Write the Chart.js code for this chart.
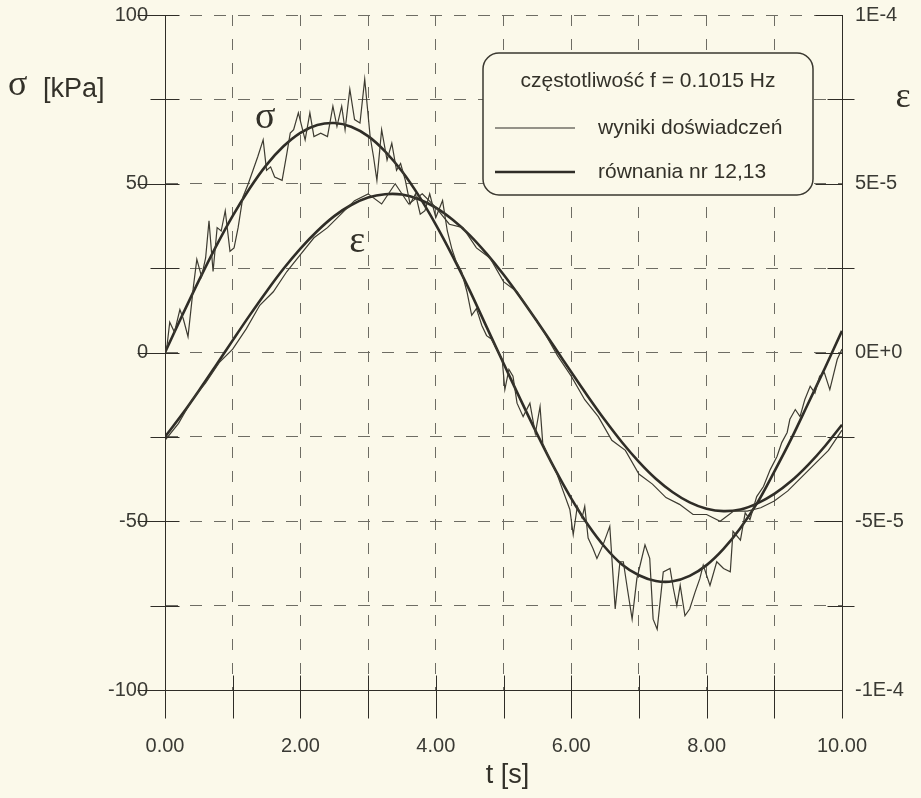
<!DOCTYPE html>
<html lang="pl">
<head>
<meta charset="utf-8">
<title>σ, ε – t</title>
<script src="https://cdn.jsdelivr.net/npm/chart.js@4/dist/chart.umd.min.js"></script>
<style>
  html, body { margin: 0; padding: 0; background: #fbf9ea; }
  canvas { display: block; }
</style>
</head>
<body>
<canvas id="chart" width="921" height="798"></canvas>
<script>
// DANE - krzywe dopasowane (rownania nr 12,13)
const tFit = [0, 0.25, 0.5, 0.75, 1, 1.25, 1.5, 1.75, 2, 2.25, 2.5, 2.75, 3, 3.25, 3.5, 3.75, 4, 4.25, 4.5, 4.75,
  5, 5.25, 5.5, 5.75, 6, 6.25, 6.5, 6.75, 7, 7.25, 7.5, 7.75, 8, 8.25, 8.5, 8.75, 9, 9.25, 9.5, 9.75, 10];
const sigmaFit = [0, 10.8, 21.3, 31.3, 40.5, 48.6, 55.6, 61.1, 65.1, 67.4, 68.0, 66.9, 64.1, 59.6, 53.7, 46.4, 37.9, 28.5, 18.4, 7.6,
  -3.2, -13.9, -24.3, -34.2, -43.2, -51.1, -57.7, -62.8, -66.0, -67.7, -67.8, -66.2, -63.0, -58.2, -52.0, -44.5, -35.3, -25.6, -15.1, -4.5, 6.4];
// odksztalcenie w 1e-6
const epsFit = [-25.0, -18.4, -11.3, -3.9, 3.6, 11.0, 18.1, 24.8, 30.8, 36.0, 40.4, 43.7, 45.9, 46.9, 46.8, 45.4, 42.9, 39.3, 34.8, 29.3,
  23.1, 16.3, 9.1, 1.7, -5.8, -13.1, -20.1, -26.6, -32.4, -37.4, -41.4, -44.4, -46.3, -47.0, -46.5, -44.7, -41.9, -38.1, -33.3, -27.7, -21.4];

// DANE - wyniki doswiadczen
const tSigmaExp = [
  0.00, 0.03, 0.07, 0.14, 0.22, 0.27, 0.34, 0.42, 0.47, 0.54,
  0.60, 0.65, 0.71, 0.77, 0.83, 0.89, 0.96, 1.02, 1.08, 1.15,
  1.23, 1.30, 1.37, 1.45, 1.50, 1.56, 1.62, 1.73, 1.80, 1.85,
  1.90, 1.97, 2.07, 2.14, 2.20, 2.30, 2.40, 2.48, 2.54, 2.61,
  2.66, 2.73, 2.80, 2.88, 2.95, 3.03, 3.08, 3.13, 3.20, 3.28,
  3.35, 3.42, 3.48, 3.55, 3.62, 3.70, 3.77, 3.84, 3.91, 4.00,
  4.10, 4.17, 4.24, 4.30, 4.38, 4.46, 4.53, 4.60, 4.68, 4.75,
  4.82, 4.90, 4.98, 5.02, 5.08, 5.14, 5.20, 5.29, 5.39, 5.47,
  5.54, 5.58, 5.69, 5.79, 5.88, 5.98, 6.03, 6.09, 6.16, 6.20,
  6.25, 6.32, 6.38, 6.47, 6.57, 6.65, 6.72, 6.77, 6.83, 6.90,
  6.97, 7.03, 7.09, 7.16, 7.21, 7.27, 7.36, 7.46, 7.51, 7.56,
  7.61, 7.68, 7.75, 7.83, 7.90, 7.95, 8.05, 8.15, 8.25, 8.35,
  8.39, 8.50, 8.57, 8.64, 8.74, 8.84, 8.94, 9.04, 9.11, 9.19,
  9.23, 9.31, 9.38, 9.45, 9.53, 9.60, 9.67, 9.74, 9.82, 9.93,
  10.00];
const sigmaExp = [
  0, 2, 9, 6, 12.7, 10, 4.7, 19.6, 27.6, 22.5,
  28, 39, 24, 37, 36, 42, 30, 31, 37, 46,
  50, 54, 58, 63, 54, 55, 52, 51, 59, 65,
  66, 71, 63, 71, 64, 65, 64, 73, 67, 73,
  66, 78, 69, 68, 81, 64, 58, 51, 66, 57,
  62, 54, 56, 51, 44, 47, 41, 42, 47, 40,
  45, 36, 30.5, 27, 24, 18, 11, 13, 8, 5,
  4, 1, -2, -11, -5, -7, -15, -19, -15, -24,
  -16, -27, -32, -36, -41, -46.5, -54, -45.6, -49, -45.6,
  -55, -58, -61, -57, -51.5, -76, -62, -62, -70, -79,
  -67, -62, -57, -61, -79, -82, -65, -64, -70, -75,
  -69, -78, -76, -71, -67, -63, -69, -62, -64, -65,
  -53, -55.6, -47.5, -49.5, -42.7, -39.7, -34.7, -30.8, -26.7, -23.7,
  -19.8, -16.9, -19, -14, -10, -12, -7, -6, -11, -2,
  1];
const tEpsExp = [0, 0.2, 0.4, 0.6, 0.8, 1, 1.2, 1.4, 1.6, 1.8, 2, 2.2, 2.4, 2.6, 2.8, 3, 3.2, 3.4, 3.6, 3.8,
  4, 4.2, 4.4, 4.6, 4.8, 5, 5.2, 5.4, 5.6, 5.8, 6, 6.2, 6.4, 6.6, 6.8, 7, 7.2, 7.4, 7.6, 7.8,
  8, 8.2, 8.4, 8.6, 8.8, 9, 9.2, 9.4, 9.6, 9.8, 10];
const epsExp = [-26, -21, -14, -9, -3, 1, 7, 14, 18, 24, 29, 34, 37, 41, 45, 47, 44, 50, 44, 47,
  43, 38, 37, 31, 28, 21, 18, 12, 6, -1, -7, -14, -19, -26, -29, -36, -39, -43, -45, -48,
  -48, -50, -47, -47, -46, -44, -41, -37, -33, -29, -23];

// OSIE I OPISY
const timeTickLabels = ['0.00', '', '2.00', '', '4.00', '', '6.00', '', '8.00', '', '10.00'];
const sigmaTickLabels = ['-100', '', '-50', '', '0', '', '50', '', '100'];
const epsTickLabels = ['-1E-4', '', '-5E-5', '', '0E+0', '', '5E-5', '', '1E-4'];
const LEGEND_TITLE = 'częstotliwość f = 0.1015 Hz';
const LEGEND_ITEMS = ['wyniki doświadczeń', 'równania nr 12,13'];
const sigmaLabelAt = [1.48, 69.6];
const epsLabelAt = [2.84, 32.6];

const BG = '#fbf9ea';
const INK = '#2f2d27';
const GRID = '#6e6d64';
const SANS = '"Liberation Sans", Arial, sans-serif';
const SERIF = '"Liberation Serif", "Times New Roman", serif';

function pts(xs, ys, k = 1) {
    return xs.map((x, i) => ({ x: x, y: ys[i] * k }));
}

// szerokosc osi pionowej bez dodatkowego marginesu na etykiety
function fixVertical(width) {
    return s => {
        s.width = width;
        s.paddingTop = 0;
        s.paddingBottom = 0;
    };
}

// TLO
const background = {
    id: 'background',
    beforeDraw(chart) {
        const ctx = chart.ctx;
        ctx.save();
        ctx.fillStyle = BG;
        ctx.fillRect(0, 0, chart.width, chart.height);
        ctx.restore();
    }
};

// ZNACZNIKI NA OSIACH
const crossTicks = {
    id: 'crossTicks',
    afterDatasetsDraw(chart) {
        const { ctx, chartArea: a, scales } = chart;
        ctx.save();
        ctx.strokeStyle = INK;
        ctx.lineWidth = 1;
        const line = (x1, y1, x2, y2) => {
            ctx.beginPath();
            ctx.moveTo(Math.round(x1) + 0.5, Math.round(y1) + 0.5);
            ctx.lineTo(Math.round(x2) + 0.5, Math.round(y2) + 0.5);
            ctx.stroke();
        };
        scales.y.ticks.forEach((t, i) => {
            const y = scales.y.getPixelForValue(t.value);
            line(a.left - (i % 2 === 0 ? 28 : 15), y, a.left + 14, y);
        });
        scales.y2.ticks.forEach((t, i) => {
            const y = scales.y2.getPixelForValue(t.value);
            if (i % 2 === 0) line(a.right - 27, y, a.right, y);
            else line(a.right - 15, y, a.right + 12, y);
        });
        scales.x.ticks.forEach(t => {
            const x = scales.x.getPixelForValue(t.value);
            line(x, a.bottom - 15, x, a.bottom + 28);
        });
        ctx.restore();
    }
};

// OPISY OSI, ETYKIETY KRZYWYCH, LEGENDA
const annotations = {
    id: 'annotations',
    afterDraw(chart) {
        const { ctx, chartArea: a, scales } = chart;
        ctx.save();
        ctx.fillStyle = '#333129';
        ctx.textBaseline = 'middle';

        // os Y lewa
        ctx.textAlign = 'left';
        ctx.font = '36px ' + SERIF;
        ctx.fillText('σ', 8, 86);
        ctx.font = '27px ' + SANS;
        ctx.fillText('[kPa]', 43, 90);

        // os Y prawa
        ctx.textAlign = 'center';
        ctx.font = '36px ' + SERIF;
        ctx.fillText('ε', 903, 98);

        // os X
        ctx.font = '27px ' + SANS;
        ctx.fillText('t [s]', (a.left + a.right) / 2 + 4, 776);

        // etykiety krzywych
        ctx.font = '38px ' + SERIF;
        ctx.fillText('σ', scales.x.getPixelForValue(sigmaLabelAt[0]), scales.y.getPixelForValue(sigmaLabelAt[1]));
        ctx.fillText('ε', scales.x.getPixelForValue(epsLabelAt[0]), scales.y.getPixelForValue(epsLabelAt[1]));

        // legenda
        const x0 = a.right - 359, y0 = a.top + 38, w = 330, h = 142, r = 16;
        ctx.beginPath();
        ctx.moveTo(x0 + r, y0);
        ctx.arcTo(x0 + w, y0, x0 + w, y0 + h, r);
        ctx.arcTo(x0 + w, y0 + h, x0, y0 + h, r);
        ctx.arcTo(x0, y0 + h, x0, y0, r);
        ctx.arcTo(x0, y0, x0 + w, y0, r);
        ctx.closePath();
        ctx.fillStyle = BG;
        ctx.fill();
        ctx.strokeStyle = '#3a3830';
        ctx.lineWidth = 1.5;
        ctx.stroke();

        ctx.fillStyle = '#333129';
        ctx.font = '21px ' + SANS;
        ctx.textAlign = 'center';
        ctx.fillText(LEGEND_TITLE, x0 + w / 2, y0 + 28);
        ctx.textAlign = 'left';
        LEGEND_ITEMS.forEach((label, i) => {
            const y = y0 + 75 + i * 44;
            ctx.strokeStyle = INK;
            ctx.lineWidth = i === 0 ? 1.2 : 2.5;
            ctx.beginPath();
            ctx.moveTo(x0 + 12, y);
            ctx.lineTo(x0 + 92, y);
            ctx.stroke();
            ctx.fillText(label, x0 + 115, y);
        });
        ctx.restore();
    }
};

// WYKRES
const ctx = document.getElementById('chart').getContext('2d');
const myChart = new Chart(ctx, {
    type: 'line',
    data: {
        datasets: [
            { label: 'σ wyniki doświadczeń', data: pts(tSigmaExp, sigmaExp), yAxisID: 'y',
              borderColor: '#3d3b31', borderWidth: 1.2, pointRadius: 0, tension: 0 },
            { label: 'ε wyniki doświadczeń', data: pts(tEpsExp, epsExp, 1e-6), yAxisID: 'y2',
              borderColor: '#3d3b31', borderWidth: 1.2, pointRadius: 0, tension: 0 },
            { label: 'σ równania nr 12,13', data: pts(tFit, sigmaFit), yAxisID: 'y',
              borderColor: INK, borderWidth: 2.6, pointRadius: 0, tension: 0.35 },
            { label: 'ε równania nr 12,13', data: pts(tFit, epsFit, 1e-6), yAxisID: 'y2',
              borderColor: INK, borderWidth: 2.6, pointRadius: 0, tension: 0.35 }
        ]
    },
    options: {
        responsive: false,
        animation: false,
        layout: { padding: { top: 15, left: 0, right: 0, bottom: 0 } },
        plugins: { legend: { display: false }, tooltip: { enabled: false } },
        scales: {
            x: {
                type: 'linear', min: 0, max: 10,
                afterFit: s => { s.height = 108; s.paddingLeft = 0; s.paddingRight = 0; },
                ticks: { stepSize: 1, autoSkip: false, maxRotation: 0, padding: 44, color: '#3a3a34',
                         font: { family: SANS, size: 20 }, callback: (v, i) => timeTickLabels[i] },
                grid: { color: GRID, lineWidth: 1, drawTicks: false },
                border: { display: true, color: INK, width: 1, dash: [11, 13] }
            },
            y: {
                position: 'left', min: -100, max: 100,
                afterFit: fixVertical(165),
                ticks: { stepSize: 25, autoSkip: false, padding: 17, color: '#3a3a34',
                         font: { family: SANS, size: 20 }, callback: (v, i) => sigmaTickLabels[i] },
                grid: { color: GRID, lineWidth: 1, drawTicks: false },
                border: { display: true, color: INK, width: 1, dash: [12, 12] }
            },
            y2: {
                position: 'right', min: -1e-4, max: 1e-4,
                afterFit: fixVertical(79),
                ticks: { stepSize: 2.5e-5, autoSkip: false, padding: 13, color: '#3a3a34',
                         font: { family: SANS, size: 20 }, callback: (v, i) => epsTickLabels[i] },
                grid: { display: false, drawTicks: false },
                border: { display: true, color: INK, width: 1 }
            }
        }
    },
    plugins: [background, crossTicks, annotations]
});
</script>
</body>
</html>
